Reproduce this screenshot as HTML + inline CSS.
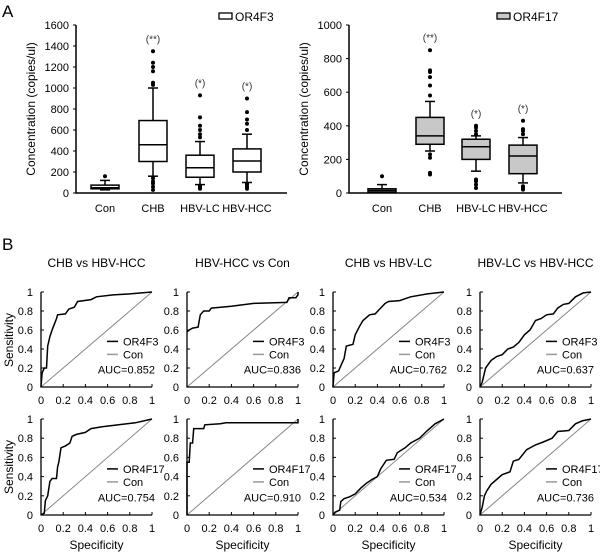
<!DOCTYPE html>
<html><head><meta charset="utf-8"><style>
body{margin:0;background:#fff}
svg{display:block;font-family:"Liberation Sans",Arial,sans-serif}
</style></head><body>
<svg id="fig" width="600" height="558" viewBox="0 0 600 558">
<text x="2" y="17" font-size="17">A</text>
<text x="2" y="250" font-size="17">B</text>
</svg>
<script>
// ---- Box plot data ----
const boxCats = ["Con","CHB","HBV-LC","HBV-HCC"];
const or4f3Q1 = [40,300,150,200];
const or4f3Med = [50,460,240,305];
const or4f3Q3 = [75,690,360,420];
const or4f3Lo = [30,160,80,100];
const or4f3Hi = [120,1000,490,560];
const or4f3Out = [[160],[1030,1050,1160,1200,1240,1350,30,60,90,110,140],[530,560,600,640,720,930,40,55,70],[600,660,700,770,900,40,60,80,90]];
const or4f3Sig = ["","(**)","(*)","(*)"];
const or4f3Ticks = [0,200,400,600,800,1000,1200,1400,1600];
const or4f17Q1 = [5,290,200,115];
const or4f17Med = [15,340,275,220];
const or4f17Q3 = [25,450,320,285];
const or4f17Lo = [5,250,130,60];
const or4f17Hi = [50,545,340,330];
const or4f17Out = [[100],[580,640,690,720,730,850,110,120,210,230],[350,370,390,400,30,50,70,80],[350,370,380,430,20,30,40]];
const or4f17Sig = ["","(**)","(*)","(*)"];
const or4f17Ticks = [0,200,400,600,800,1000];
// ---- ROC data ----
const rocTitles = ["CHB vs HBV-HCC","HBV-HCC vs Con","CHB vs HBV-LC","HBV-LC vs HBV-HCC"];
const rocTicks = [0,0.2,0.4,0.6,0.8,1];
const r1Fpr = [
 [0,0.01,0.03,0.05,0.06,0.08,0.1,0.12,0.14,0.15,0.22,0.25,0.3,0.33,0.45,0.5,0.65,0.8,1],
 [0,0.02,0.05,0.1,0.12,0.15,0.2,0.22,0.4,0.6,0.9,0.92,0.98,1,1],
 [0,0.01,0.05,0.08,0.1,0.12,0.18,0.2,0.24,0.27,0.33,0.38,0.42,0.47,0.5,0.6,0.7,0.85,1],
 [0,0.02,0.05,0.1,0.15,0.2,0.25,0.3,0.35,0.4,0.45,0.5,0.55,0.6,0.66,0.7,0.75,0.8,0.86,0.93,1]];
const r1Tpr = [
 [0,0.15,0.2,0.2,0.43,0.53,0.6,0.66,0.72,0.76,0.77,0.82,0.84,0.9,0.92,0.95,0.97,0.98,1],
 [0.58,0.6,0.62,0.63,0.76,0.8,0.8,0.83,0.85,0.88,0.89,0.94,0.94,0.97,1],
 [0,0.15,0.17,0.25,0.3,0.43,0.45,0.55,0.64,0.7,0.76,0.77,0.82,0.88,0.9,0.91,0.95,0.98,1],
 [0,0.05,0.2,0.28,0.32,0.34,0.4,0.42,0.47,0.55,0.6,0.7,0.72,0.76,0.77,0.83,0.87,0.88,0.95,0.99,1]];
const r1Auc = ["0.852","0.836","0.762","0.637"];
const r2Fpr = [
 [0,0.03,0.04,0.06,0.08,0.1,0.14,0.15,0.16,0.18,0.22,0.26,0.28,0.32,0.4,0.45,0.55,0.7,0.85,1],
 [0,0,0.02,0.03,0.05,0.06,0.15,0.16,0.3,0.35,1,1],
 [0,0.02,0.06,0.07,0.1,0.15,0.2,0.25,0.3,0.35,0.4,0.43,0.48,0.55,0.58,0.65,0.7,0.78,0.85,0.92,1],
 [0,0.02,0.04,0.06,0.1,0.15,0.2,0.27,0.3,0.35,0.42,0.5,0.57,0.65,0.7,0.8,0.86,0.92,1]];
const r2Tpr = [
 [0,0.02,0.15,0.2,0.35,0.38,0.38,0.5,0.55,0.7,0.72,0.75,0.82,0.84,0.86,0.9,0.92,0.94,0.96,1],
 [0,0.55,0.55,0.75,0.75,0.9,0.9,0.94,0.95,0.96,0.96,1],
 [0,0.03,0.05,0.14,0.17,0.19,0.22,0.28,0.33,0.37,0.4,0.48,0.57,0.58,0.65,0.7,0.75,0.8,0.88,0.95,1],
 [0,0.08,0.2,0.25,0.32,0.37,0.42,0.45,0.56,0.58,0.68,0.73,0.76,0.8,0.87,0.88,0.95,0.98,1]];
const r2Auc = ["0.754","0.910","0.534","0.736"];

const svg = document.getElementById('fig');
const NS = 'http://www.w3.org/2000/svg';
function mk(tag, attrs, parent){const e=document.createElementNS(NS,tag);for(const k in attrs)e.setAttribute(k,attrs[k]);(parent||svg).appendChild(e);return e;}
function txt(x,y,s,size,anchor,parent){const t=mk('text',{x:x,y:y,'font-size':size,'text-anchor':anchor||'start'},parent);t.textContent=s;return t;}

function boxPanel(name,x0,x1,yTop,yBot,max,ticks,xs,q1,med,q3,lo,hi,out,sig,fill,legend,legX){
  const g=mk('g',{});
  
  
  const y=v=>yBot-(v/max)*(yBot-yTop);
  const ax=mk('path',{d:`M${x0},${yTop} V${yBot} H${x1}`,stroke:'#000','stroke-width':1.5,fill:'none'},g);
  
  
  ticks.forEach(t=>{mk('line',{x1:x0-3,x2:x0,y1:y(t),y2:y(t),stroke:'#000'},g);
    const l=txt(x0-7,y(t)+4,String(t),11,'end',g);
    
    });
  const yt=txt(0,0,'Concentration (copies/ul)',12,'middle',g);
  yt.setAttribute('transform',`translate(${x0-41},${(yTop+yBot)/2}) rotate(-90)`);
  
  
  boxCats.forEach((c,i)=>{
    const cx=xs[i],w=28;
    const bg=mk('g',{},g);
    
    
    mk('line',{x1:cx,x2:cx,y1:y(hi[i]),y2:y(q3[i]),stroke:'#000','stroke-width':1.5},bg);
    mk('line',{x1:cx,x2:cx,y1:y(q1[i]),y2:y(lo[i]),stroke:'#000','stroke-width':1.5},bg);
    mk('line',{x1:cx-5,x2:cx+5,y1:y(hi[i]),y2:y(hi[i]),stroke:'#000','stroke-width':1.5},bg);
    mk('line',{x1:cx-5,x2:cx+5,y1:y(lo[i]),y2:y(lo[i]),stroke:'#000','stroke-width':1.5},bg);
    mk('rect',{x:cx-w/2,y:y(q3[i]),width:w,height:y(q1[i])-y(q3[i]),fill:fill,stroke:'#000','stroke-width':1.5},bg);
    mk('line',{x1:cx-w/2,x2:cx+w/2,y1:y(med[i]),y2:y(med[i]),stroke:'#000','stroke-width':1.5},bg);
    out[i].forEach(v=>mk('circle',{cx:cx,cy:y(v),r:2,fill:'#000'},bg));
    const cl=txt(cx,yBot+19,c,11,'middle',g);
    
    
    if(sig[i]){const mx=Math.max(...out[i]);const s=txt(cx,y(mx)-9,sig[i],10,'middle',g);
      s.setAttribute('fill','#333');
      
      }
  });
  const lg=mk('g',{},g);
  
  
  mk('rect',{x:legX,y:13,width:13,height:6,fill:fill,stroke:'#000','stroke-width':1.3},lg);
  txt(legX+16,21,legend,12,'start',lg);
}
boxPanel('or4f3-boxplot',76,287,25,193,1600,or4f3Ticks,[105,153,200,247],or4f3Q1,or4f3Med,or4f3Q3,or4f3Lo,or4f3Hi,or4f3Out,or4f3Sig,'#fff','OR4F3',219);
boxPanel('or4f17-boxplot',349,562,25,193,1000,or4f17Ticks,[382,430,476,523],or4f17Q1,or4f17Med,or4f17Q3,or4f17Lo,or4f17Hi,or4f17Out,or4f17Sig,'#c8c8c8','OR4F17',497);

function rocPanel(name,x0,yTop,yBot,fpr,tpr,auc,gene,title,showX){
  const W=111,H=yBot-yTop;
  const g=mk('g',{});
  
  
  const X=v=>x0+v*W, Y=v=>yBot-v*H;
  mk('line',{x1:X(0),y1:Y(0),x2:X(1),y2:Y(1),stroke:'#888','stroke-width':1},g);
  const ax=mk('path',{d:`M${x0},${yTop} V${yBot} H${x0+W}`,stroke:'#000','stroke-width':1.3,fill:'none'},g);
  
  
  rocTicks.forEach(t=>{
    mk('line',{x1:x0,x2:x0+3,y1:Y(t),y2:Y(t),stroke:'#000'},g);
    mk('line',{x1:X(t),x2:X(t),y1:yBot,y2:yBot-3,stroke:'#000'},g);
    const yl=txt(x0-8,Y(t)+4,String(t),11,'end',g);
    
    
    const xl=txt(X(t),yBot+17,String(t),11,'middle',g);
    
    
  });
  let d='';fpr.forEach((f,i)=>{d+=(i?'L':'M')+X(f).toFixed(1)+','+Y(tpr[i]).toFixed(1);});
  const c=mk('path',{d:d,stroke:'#000','stroke-width':1.5,fill:'none'},g);
  
  
  const lg=mk('g',{},g);
  
  
  const ly=yTop+H*0.52;
  mk('line',{x1:x0+66,x2:x0+77,y1:ly,y2:ly,stroke:'#000','stroke-width':1.5},lg);
  txt(x0+82,ly+4,gene,11,'start',lg);
  mk('line',{x1:x0+66,x2:x0+77,y1:ly+13,y2:ly+13,stroke:'#999','stroke-width':1.5},lg);
  txt(x0+82,ly+17,'Con',11,'start',lg);
  const a=txt(x0+W+3,yTop+H*0.86,'AUC='+auc,11,'end',g);
  
  
  if(title){const t=txt(x0+W/2,267,title,12,'middle',g);
    
    }
  if(showX){const s=txt(x0+W/2,549,'Specificity',12,'middle',g);
    
    }
}
const colX=[41,187,333,480];
colX.forEach((x,i)=>{
  rocPanel('roc-or4f3-'+(i+1),x,292,387,r1Fpr[i],r1Tpr[i],r1Auc[i],'OR4F3',rocTitles[i],false);
  rocPanel('roc-or4f17-'+(i+1),x,419,515,r2Fpr[i],r2Tpr[i],r2Auc[i],'OR4F17','',true);
});
[340,467].forEach(cy=>{const s=txt(0,0,'Sensitivity',12,'middle');
  s.setAttribute('transform',`translate(13,${cy}) rotate(-90)`);
  
  });
</script>
</body></html>
